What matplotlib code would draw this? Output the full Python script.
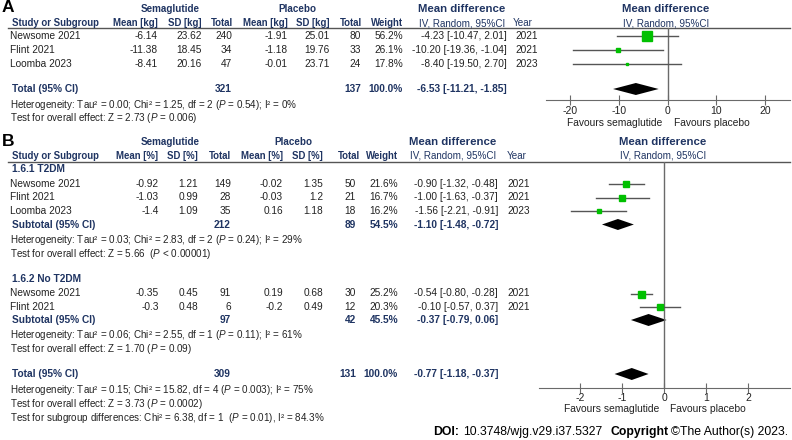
import matplotlib.pyplot as plt

plt.rcParams['font.family'] = ['Liberation Sans', 'DejaVu Sans']
plt.rcParams['axes.unicode_minus'] = False
plt.rcParams['mathtext.fontset'] = 'custom'
plt.rcParams['mathtext.it'] = 'Liberation Sans:italic'
plt.rcParams['mathtext.rm'] = 'Liberation Sans'

NAVY = '#1f3462'
INK = '#222222'
GRAY = '#6a6a6a'
GREEN = '#00c000'

# ---- panel A: weight change (kg) ----
a_study = ["Newsome 2021", "Flint 2021", "Loomba 2023"]
a_sema_mean = [-6.14, -11.38, -8.41]
a_sema_sd = [23.62, 18.45, 20.16]
a_sema_n = [240, 34, 47]
a_plac_mean = [-1.91, -1.18, -0.01]
a_plac_sd = [25.01, 19.76, 23.71]
a_plac_n = [80, 33, 24]
a_weight = [56.2, 26.1, 17.8]
a_md = [-4.23, -10.20, -8.40]
a_lo = [-10.47, -19.36, -19.50]
a_hi = [2.01, -1.04, 2.70]
a_year = [2021, 2021, 2023]
a_total_n = [321, 137]
a_total_ci = [-6.53, -11.21, -1.85]
a_ticks = [-20, -10, 0, 10, 20]

# ---- panel B: liver fat (%) ----
b1_study = ["Newsome 2021", "Flint 2021", "Loomba 2023"]
b1_sema_mean = [-0.92, -1.03, -1.4]
b1_sema_sd = [1.21, 0.99, 1.09]
b1_sema_n = [149, 28, 35]
b1_plac_mean = [-0.02, -0.03, 0.16]
b1_plac_sd = [1.35, 1.2, 1.18]
b1_plac_n = [50, 21, 18]
b1_weight = [21.6, 16.7, 16.2]
b1_md = [-0.90, -1.00, -1.56]
b1_lo = [-1.32, -1.63, -2.21]
b1_hi = [-0.48, -0.37, -0.91]
b1_year = [2021, 2021, 2023]
b1_sub_n = [212, 89]
b1_sub_w = 54.5
b1_sub_ci = [-1.10, -1.48, -0.72]

b2_study = ["Newsome 2021", "Flint 2021"]
b2_sema_mean = [-0.35, -0.3]
b2_sema_sd = [0.45, 0.48]
b2_sema_n = [91, 6]
b2_plac_mean = [0.19, -0.2]
b2_plac_sd = [0.68, 0.49]
b2_plac_n = [30, 12]
b2_weight = [25.2, 20.3]
b2_md = [-0.54, -0.10]
b2_lo = [-0.80, -0.57]
b2_hi = [-0.28, 0.37]
b2_year = [2021, 2021]
b2_sub_n = [97, 42]
b2_sub_w = 45.5
b2_sub_ci = [-0.37, -0.79, 0.06]

b_total_n = [309, 131]
b_total_ci = [-0.77, -1.18, -0.37]
b_ticks = [-2, -1, 0, 1, 2]

fig = plt.figure(figsize=(7.92, 4.4), dpi=100)
bg = fig.add_axes([0, 0, 1, 1])
bg.set_xlim(0, 792)
bg.set_ylim(440, 0)
bg.axis('off')


def txt(x, y, s, ha='right', bold=False, color=INK, size=7.3):
    return bg.text(x, y, s, ha=ha, va='center', fontsize=size, color=color,
                   fontweight='bold' if bold else 'normal')


def plot_axes(x0, x1, y0, y1, xlim, ticks):
    ax = fig.add_axes([x0 / 792, 1 - y1 / 440, (x1 - x0) / 792, (y1 - y0) / 440])
    ax.set_xlim(*xlim)
    ax.set_ylim(y1, y0)
    ax.patch.set_alpha(0)
    for s in ['top', 'left', 'right']:
        ax.spines[s].set_visible(False)
    ax.spines['bottom'].set_color(GRAY)
    ax.set_yticks([])
    ax.set_xticks(ticks)
    ax.axvline(0, color=GRAY, lw=1)
    ax.tick_params(axis='x', direction='inout', length=7, color=GRAY,
                   labelsize=7.5, labelcolor=INK, pad=0.5)
    return ax


def headers(y_top, y_hdr, cols, unit, hdr_right, ci_right, year_x, fp_center, line_y, plac_x):
    txt(170, y_top, "Semaglutide", ha='center', bold=True, color=NAVY, size=7.1)
    txt(plac_x, y_top, "Placebo", ha='center', bold=True, color=NAVY, size=7.1)
    txt(ci_right - 45, y_top, "Mean difference", ha='center', bold=True, color=NAVY, size=8.2)
    txt(fp_center, y_top, "Mean difference", ha='center', bold=True, color=NAVY, size=8.2)
    txt(cols[0] + 2, y_hdr, "Study or Subgroup", ha='left', bold=True, color=NAVY, size=6.9)
    names = [f"Mean [{unit}]", f"SD [{unit}]", "Total", f"Mean [{unit}]", f"SD [{unit}]", "Total", "Weight"]
    for x, s in zip(hdr_right, names):
        txt(x, y_hdr, s, bold=True, color=NAVY, size=6.9)
    txt(ci_right - 2, y_hdr, "IV, Random, 95%CI", color=NAVY, size=7.1)
    txt(year_x, y_hdr, "Year", ha='left', color=NAVY, size=7.1)
    txt(fp_center, y_hdr, "IV, Random, 95%CI", ha='center', color=NAVY, size=7.1)
    bg.plot([8, 790], [line_y, line_y], color='#555555', lw=1)


def study_rows(ax, ys, cols, study, sm, ssd, sn, pm, psd, pn, w, md, lo, hi, yr, scale):
    for i, y in enumerate(ys):
        txt(cols[0], y, study[i], ha='left')
        for x, v in zip(cols[1:7], [sm[i], ssd[i], sn[i], pm[i], psd[i], pn[i]]):
            txt(x, y, f"{v:g}")
        txt(cols[7], y, f"{w[i]:.1f}%")
        txt(cols[8], y, f"{md[i]:.2f} [{lo[i]:.2f}, {hi[i]:.2f}]")
        txt(cols[9], y, str(yr[i]), ha='left')
        ax.plot([lo[i], hi[i]], [y, y], color='#555555', lw=1, clip_on=False)
        ax.plot(md[i], y, marker='s', ms=w[i] * scale, color=GREEN, mec=GREEN, clip_on=False)


def pooled_row(ax, y, cols, label, n, w, ci, h):
    txt(cols[0] + 2, y, label, ha='left', bold=True, color=NAVY)
    txt(cols[3], y, str(n[0]), bold=True, color=NAVY)
    txt(cols[6], y, str(n[1]), bold=True, color=NAVY)
    txt(cols[7], y, f"{w:.1f}%", bold=True, color=NAVY)
    txt(cols[8], y, f"{ci[0]:.2f} [{ci[1]:.2f}, {ci[2]:.2f}]", bold=True, color=NAVY)
    ax.fill([ci[1], ci[0], ci[2], ci[0]], [y, y - h, y, y + h], color='black', lw=0, clip_on=False)


def note(y, s):
    txt(10, y, s, ha='left', size=7.1)


def favours(y, zero_x):
    txt(zero_x - 5, y, "Favours semaglutide", size=7.4)
    txt(zero_x + 6, y, "Favours placebo", ha='left', size=7.4)


# ---------------- panel A ----------------
cols_a = [10, 158, 202, 232, 288, 330, 361, 403, 507, 515]
txt(2, 8, "A", ha='left', bold=True, color='black', size=12.5)
headers(8.5, 23, cols_a, "kg", [158, 202, 233, 288, 330, 362, 403], 507, 513, 666, 28.5, 297)
axA = plot_axes(545.8, 789.6, 28.5, 100, (-25, 25), a_ticks)
study_rows(axA, [36, 50, 64], cols_a, a_study, a_sema_mean, a_sema_sd, a_sema_n,
           a_plac_mean, a_plac_sd, a_plac_n, a_weight, a_md, a_lo, a_hi, a_year, 0.12)
pooled_row(axA, 89, cols_a, "Total (95% CI)", a_total_n, 100.0, a_total_ci, 6)
note(105, "Heterogeneity: Tau² = 0.00; Chi² = 1.25, df = 2 ($P$ = 0.54); I² = 0%")
note(118, "Test for overall effect: Z = 2.73 ($P$ = 0.006)")
favours(122.5, 667.7)

# ---------------- panel B ----------------
cols_b = [10, 159, 198, 231, 283, 323, 356, 398, 498, 507]
txt(2, 141, "B", ha='left', bold=True, color='black', size=12.5)
headers(142, 156, cols_b, "%", [158, 198, 231, 283, 323, 360, 398], 498, 507, 663, 162, 293)
axB = plot_axes(539, 790, 162, 387.5, (-2.98, 3.0), b_ticks)

txt(12, 169, "1.6.1 T2DM", ha='left', bold=True, color=NAVY)
study_rows(axB, [184, 197.5, 211], cols_b, b1_study, b1_sema_mean, b1_sema_sd, b1_sema_n,
           b1_plac_mean, b1_plac_sd, b1_plac_n, b1_weight, b1_md, b1_lo, b1_hi, b1_year, 0.22)
pooled_row(axB, 224.5, cols_b, "Subtotal (95% CI)", b1_sub_n, b1_sub_w, b1_sub_ci, 5.5)
note(240, "Heterogeneity: Tau² = 0.03; Chi² = 2.83, df = 2 ($P$ = 0.24); I² = 29%")
note(254, "Test for overall effect: Z = 5.66  ($P$ < 0.00001)")

txt(12, 279, "1.6.2 No T2DM", ha='left', bold=True, color=NAVY)
study_rows(axB, [293.5, 307], cols_b, b2_study, b2_sema_mean, b2_sema_sd, b2_sema_n,
           b2_plac_mean, b2_plac_sd, b2_plac_n, b2_weight, b2_md, b2_lo, b2_hi, b2_year, 0.2)
pooled_row(axB, 320, cols_b, "Subtotal (95% CI)", b2_sub_n, b2_sub_w, b2_sub_ci, 6)
note(335, "Heterogeneity: Tau² = 0.06; Chi² = 2.55, df = 1 ($P$ = 0.11); I² = 61%")
note(349, "Test for overall effect: Z = 1.70 ($P$ = 0.09)")

pooled_row(axB, 374, cols_b, "Total (95% CI)", b_total_n, 100.0, b_total_ci, 6)
note(390, "Heterogeneity: Tau² = 0.15; Chi² = 15.82, df = 4 ($P$ = 0.003); I² = 75%")
note(404, "Test for overall effect: Z = 3.73 ($P$ = 0.0002)")
note(418, "Test for subgroup differences: Chi² = 6.38, df = 1  ($P$ = 0.01), I² = 84.3%")
favours(409, 664)

# footer, pieces laid out one after another
renderer = fig.canvas.get_renderer()
x = 433
for s, b, gap in [("DOI:", True, 4), ("10.3748/wjg.v29.i37.5327", False, 8),
                  ("Copyright", True, 3), ("©The Author(s) 2023.", False, 0)]:
    t = txt(x, 432, s, ha='left', bold=b, color='black', size=8.8)
    x += t.get_window_extent(renderer).width + gap

fig.savefig("out.png", dpi=100)
